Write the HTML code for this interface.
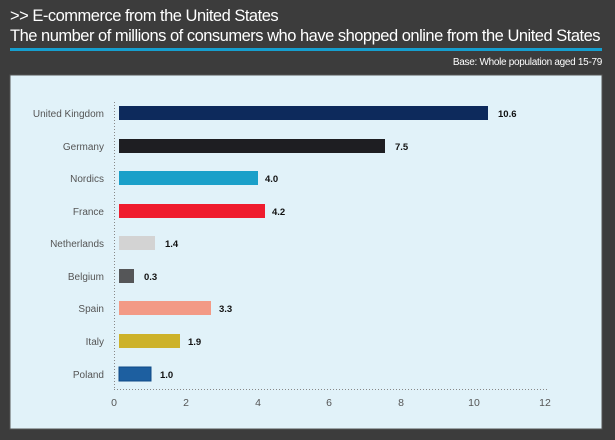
<!DOCTYPE html>
<html><head><style>
body{margin:0;width:615px;height:440px;background:#3c3c3c;overflow:hidden;font-family:"Liberation Sans",sans-serif;position:relative}
.t{position:absolute;color:#fff;left:10px;font-size:16.5px;letter-spacing:-0.5px;white-space:nowrap}
</style></head><body>
<div class="t" style="top:7px">&gt;&gt; E-commerce from the United States</div>
<div class="t" style="top:27px">The number of millions of consumers who have shopped online from the United States</div>
<div style="position:absolute;left:10px;top:48px;width:592px;height:3px;background:#169fcf"></div>
<div style="position:absolute;right:13px;top:57px;color:#fff;font-size:10px;letter-spacing:-0.3px">Base: Whole population aged 15-79</div>
<svg style="position:absolute;left:0;top:0" width="615" height="440">
<rect x="10" y="75" width="592" height="354" fill="#e1f2f9" stroke="#555" stroke-width="1"/>
<line x1="114.5" y1="102" x2="114.5" y2="389" stroke="#888" stroke-dasharray="1,2"/>
<line x1="114" y1="389.5" x2="548" y2="389.5" stroke="#888" stroke-dasharray="1,2"/>
<g font-family="Liberation Sans" font-size="10.5" fill="#555" text-anchor="middle">
<text x="114" y="406">0</text><text x="186" y="406">2</text><text x="258" y="406">4</text><text x="329" y="406">6</text><text x="401" y="406">8</text><text x="474" y="406">10</text><text x="545" y="406">12</text>
</g>
<g font-family="Liberation Sans" font-size="10" fill="#555" text-anchor="end">
<text x="104" y="117">United Kingdom</text><text x="104" y="150">Germany</text><text x="104" y="182">Nordics</text><text x="104" y="215">France</text><text x="104" y="247">Netherlands</text><text x="104" y="280">Belgium</text><text x="104" y="312">Spain</text><text x="104" y="345">Italy</text><text x="104" y="378">Poland</text>
</g>
<g>
<rect x="119" y="106" width="369" height="14" fill="#0d2a5c"/>
<rect x="119" y="139" width="266" height="14" fill="#1e1e22"/>
<rect x="119" y="171" width="139" height="14" fill="#1aa0c9"/>
<rect x="119" y="204" width="146" height="14" fill="#ef1c2e"/>
<rect x="119" y="236" width="36" height="14" fill="#d3d3d3"/>
<rect x="119" y="269" width="15" height="14" fill="#555658"/>
<rect x="119" y="301" width="92" height="14" fill="#f39a86"/>
<rect x="119" y="334" width="61" height="14" fill="#cdb22a"/>
<rect x="119" y="367" width="32" height="14" fill="#1d5fa0" stroke="#0e4a86"/>
</g>
<g font-family="Liberation Sans" font-size="9.5" font-weight="bold" fill="#111">
<text x="498" y="117">10.6</text><text x="395" y="150">7.5</text><text x="265" y="182">4.0</text><text x="272" y="215">4.2</text><text x="165" y="247">1.4</text><text x="144" y="280">0.3</text><text x="219" y="312">3.3</text><text x="188" y="345">1.9</text><text x="160" y="378">1.0</text>
</g>
</svg>
</body></html>
